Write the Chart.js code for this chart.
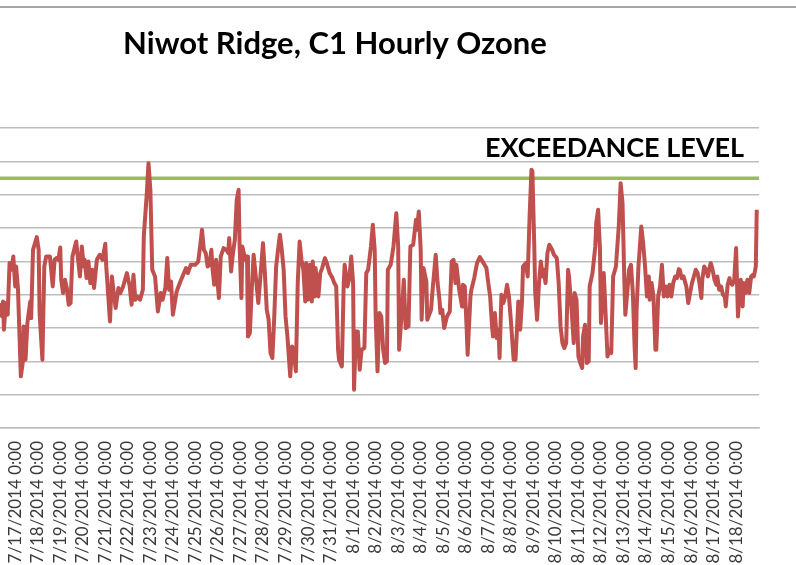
<!DOCTYPE html>
<html>
<head>
<meta charset="utf-8">
<script src="https://cdn.jsdelivr.net/npm/chart.js@4.4.1/dist/chart.umd.min.js"></script>
<style>
  html, body { margin: 0; padding: 0; background: #fff; }
  #frame { position: relative; width: 796px; height: 565px; overflow: hidden; background: #fff; }
  #wrap { position: absolute; left: -89px; top: 0; width: 885px; height: 565px; }
</style>
</head>
<body>
<div id="frame">
  <div id="wrap"><canvas id="grafico"></canvas></div>
</div>
<script>
// horas desde 7/17/2014 0:00 e ozônio (ppb)
const horas = [
  -16, -14, -13, -12, -10, -8, -6, -4, -2, 0, 1, 3, 6, 8, 9, 11, 13, 16, 17, 19,
  23, 25, 26, 29, 31, 33, 37, 40, 42, 44, 46, 48, 49, 51, 53, 55, 57, 59, 61, 65,
  67, 69, 71, 73, 74, 76, 78, 80, 82, 84, 87, 90, 93, 96, 97, 101, 103, 105, 107, 110,
  112, 115, 119, 122, 124, 126, 128, 130, 133, 136, 137, 140, 142, 144, 146, 149, 152, 155, 157, 160,
  162, 164, 166, 168, 170, 172, 176, 179, 182, 184, 187, 192, 195, 197, 199, 201, 203, 205, 207, 209,
  210, 212, 214, 216, 217, 219, 222, 225, 227, 228, 230, 232, 234, 236, 238, 239, 241, 242, 245, 247,
  248, 250, 252, 254, 257, 259, 261, 264, 266, 268, 270, 272, 274, 276, 278, 280, 282, 284, 286, 288,
  290, 293, 295, 297, 299, 301, 303, 305, 307, 309, 310, 312, 314, 316, 317, 319, 320, 323, 325, 327,
  330, 332, 335, 338, 340, 342, 344, 345, 348, 350, 351, 354, 356, 358, 360, 361, 363, 365, 367, 369,
  372, 374, 376, 379, 381, 383, 384, 386, 388, 390, 392, 394, 396, 397, 400, 403, 406, 408, 409, 412,
  414, 416, 419, 421, 424, 427, 428, 430, 432, 433, 435, 438, 439, 443, 445, 448, 450, 452, 453, 455,
  457, 460, 463, 465, 467, 469, 470, 473, 476, 477, 479, 481, 482, 485, 486, 489, 492, 495, 499, 502,
  504, 506, 508, 509, 511, 513, 515, 516, 518, 520, 522, 524, 526, 528, 531, 533, 536, 538, 540, 541,
  544, 546, 548, 550, 551, 553, 554, 556, 558, 560, 562, 563, 565, 567, 569, 572, 574, 577, 579, 581,
  583, 585, 587, 589, 590, 593, 595, 596, 598, 600, 602, 604, 605, 607, 609, 611, 612, 615, 618, 619,
  621, 623, 624, 627, 628, 631, 633, 635, 637, 640, 643, 645, 647, 649, 650, 652, 654, 656, 658, 660,
  661, 662, 664, 666, 667, 669, 671, 673, 675, 676, 678, 680, 682, 683, 685, 687, 689, 691, 693, 695,
  697, 699, 701, 703, 705, 707, 708, 710, 712, 714, 715, 717, 719, 721, 723, 725, 727, 729, 731, 732,
  734, 736, 738, 740, 741, 743, 745, 747, 748, 750, 752, 754, 756, 757, 759, 761, 762, 764, 766, 768,
  769, 770, 772, 773, 775, 776, 778, 780, 782, 784, 786, 787, 789, 790
];
const ozonio = [
  37.5, 33.5, 38, 29.5, 37.5, 34, 49.5, 47.5, 51.5, 42.5, 48.5, 41.5, 15.5, 19.5, 30.5, 20.5, 31.5, 38, 33, 53.5,
  57.3, 53.5, 34.5, 20.5, 48.5, 51.5, 51.5, 42.5, 50.5, 51, 50.5, 54.2, 44.5, 40.5, 44.5, 42, 37, 37.5, 51.5, 56,
  50.5, 45.5, 54.5, 48.5, 50.5, 45, 50, 43.5, 47.5, 42, 50.5, 52, 50.5, 55.3, 48.5, 32, 45.5, 40.5, 36, 42,
  40.5, 42.5, 46.5, 42.5, 37, 46, 38.5, 39.5, 38.5, 41.5, 57.5, 69.5, 79.5, 71.5, 47.5, 45.5, 35, 40.5, 38.5, 42,
  51, 41.5, 44, 34, 37.5, 41, 44, 46, 48, 46.5, 49, 49, 50, 54.5, 59.5, 53.5, 52.5, 48.5, 49, 53.5,
  48.5, 43, 50.5, 42.5, 39, 51.5, 54, 53.5, 52.5, 57, 47, 52.5, 56.5, 68.5, 71.5, 55.5, 39, 54.5, 50.5, 51.5,
  27.5, 28.5, 41.5, 52, 43.5, 37.5, 44.5, 55.5, 46.5, 35.5, 32.5, 22.5, 21, 33.5, 48.5, 53.5, 58, 53.5, 47.5, 33.5,
  27.5, 15.5, 24.5, 22.5, 17, 43.5, 56, 50.5, 47.5, 38, 49.5, 38.5, 49, 38, 50, 39.5, 48, 39.5, 46.5, 48,
  51, 49.5, 46.5, 45, 43.5, 42.5, 23.5, 20.5, 18.5, 43.5, 49, 42.5, 45, 51.5, 43.5, 11.5, 29, 29, 17.5, 23.5,
  24, 46.5, 47.5, 54.5, 61, 53.5, 33.5, 17, 34.5, 33.5, 23.5, 19.5, 20, 47.5, 49, 54.5, 64.5, 54.5, 23.5, 35.5,
  44.5, 30, 30.5, 54.5, 55, 62.5, 59.5, 65, 53.5, 32.5, 48, 44, 32.5, 35.5, 42.5, 52, 43.5, 38.5, 34.5, 35.5,
  30, 33.5, 35, 50, 50.5, 43.5, 49, 41.5, 36.5, 43, 42.5, 29.5, 22, 39.5, 41.5, 45, 49.5, 51.3, 49.5, 48,
  43.5, 39.5, 30.5, 27.5, 34.5, 27, 29.5, 21, 40, 37.5, 39.5, 43, 39.5, 32.5, 20.5, 20.5, 38, 29.5, 38.5, 48.5,
  49.5, 45.5, 63.5, 77.5, 77, 54.5, 40.5, 32.5, 43.5, 50, 45.5, 47.5, 43.5, 52.5, 55, 53.5, 52, 51, 43.5, 30.5,
  25.5, 24, 25.5, 47.5, 45.5, 34.5, 25.5, 40.5, 38.5, 21.5, 19.5, 18, 27.5, 31, 19.5, 20, 42.5, 46.5, 54.5, 61.5,
  65.5, 53.5, 31.5, 46.5, 40.5, 21.5, 23.5, 22.5, 45.5, 48.5, 60.5, 73.5, 67.5, 43.5, 34, 40.5, 47.5, 49, 40.5, 23.5,
  18, 35.5, 48.5, 56.5, 60.5, 55.5, 48.5, 39.5, 45.5, 38.5, 43.5, 39.5, 23.5, 23.5, 39.5, 42.5, 49, 39.5, 42.5, 39.5,
  43, 39.5, 43.5, 45.5, 45, 47.7, 47.5, 45, 45.5, 43.5, 42.5, 37.5, 40.5, 43.5, 45.5, 47.5, 46.5, 43.5, 39, 44.5,
  48.5, 47.5, 45.5, 48.5, 49.5, 47.5, 44.5, 43, 45.5, 41.5, 42.5, 40, 39.5, 36.5, 43, 45, 43.5, 43, 44.5, 54,
  43.5, 33.5, 41.5, 44.5, 36.5, 43.5, 40.5, 44.5, 40.5, 45.5, 46, 45.5, 48.5, 65.5
];
// rótulos do eixo X (um por dia, a partir de 7/16)
const rotulosDias = [
  "7/16/2014 0:00", "7/17/2014 0:00", "7/18/2014 0:00", "7/19/2014 0:00", "7/20/2014 0:00",
  "7/21/2014 0:00", "7/22/2014 0:00", "7/23/2014 0:00", "7/24/2014 0:00", "7/25/2014 0:00",
  "7/26/2014 0:00", "7/27/2014 0:00", "7/28/2014 0:00", "7/29/2014 0:00", "7/30/2014 0:00",
  "7/31/2014 0:00", "8/1/2014 0:00", "8/2/2014 0:00", "8/3/2014 0:00", "8/4/2014 0:00",
  "8/5/2014 0:00", "8/6/2014 0:00", "8/7/2014 0:00", "8/8/2014 0:00", "8/9/2014 0:00",
  "8/10/2014 0:00", "8/11/2014 0:00", "8/12/2014 0:00", "8/13/2014 0:00", "8/14/2014 0:00",
  "8/15/2014 0:00", "8/16/2014 0:00", "8/17/2014 0:00", "8/18/2014 0:00"
];
const nivelExcedencia = 75; // ppb
const textoExcedencia = "EXCEEDANCE LEVEL";
const titulo = "Niwot Ridge, C1 Hourly Ozone";

const inicioEixo = -111; // parte esquerda fica cortada, como no original
const fimEixo = 792.4;

const cinza = "#bdbdbd";

// texto do nível de excedência acima da linha verde + borda superior do quadro
const extras = {
  id: "extras",
  afterDraw(chart) {
    const ctx = chart.ctx;
    const y = chart.scales.y.getPixelForValue(nivelExcedencia);
    ctx.save();
    ctx.fillStyle = "#a6a6a6";
    ctx.fillRect(0, 6, chart.width, 2);
    ctx.font = "bold 27px Lato";
    ctx.fillStyle = "#000";
    ctx.textAlign = "right";
    ctx.textBaseline = "alphabetic";
    ctx.fillText(textoExcedencia, chart.chartArea.right - 15, y - 21);
    ctx.restore();
  },
};

const ctx = document.getElementById("grafico").getContext("2d");
const myChart = new Chart(ctx, {
  type: "line",
  data: {
    datasets: [
      {
        label: "Ozone",
        data: horas.map((h, i) => ({ x: h, y: ozonio[i] })),
        borderColor: "#c0504d",
        borderWidth: 4,
        pointRadius: 0,
        tension: 0,
        borderJoinStyle: "round",
      },
      {
        label: "Exceedance",
        data: [
          { x: inicioEixo, y: nivelExcedencia },
          { x: fimEixo, y: nivelExcedencia },
        ],
        borderColor: "#9bbb59",
        borderWidth: 3.5,
        pointRadius: 0,
      },
    ],
  },
  options: {
    responsive: true,
    maintainAspectRatio: false,
    animation: false,
    layout: { padding: { left: 0, right: 37, top: 0, bottom: 0 } },
    plugins: {
      legend: { display: false },
      tooltip: { enabled: false },
      title: {
        display: true,
        text: titulo,
        color: "#000",
        font: { family: "Lato", size: 31, weight: "bold" },
        padding: { top: 25, bottom: 66 },
      },
    },
    scales: {
      x: {
        type: "linear",
        min: inicioEixo,
        max: fimEixo,
        afterBuildTicks: (scale) => {
          scale.ticks = rotulosDias.map((r, i) => ({ value: (i - 1) * 24 }));
        },
        afterFit: (scale) => {
          scale.height = 137;
        },
        grid: { display: false, drawTicks: false },
        border: { display: true, color: cinza, width: 1.5 },
        ticks: {
          autoSkip: false,
          minRotation: 90,
          maxRotation: 90,
          padding: 13,
          color: "#3a3a3a",
          font: { family: "Lato", size: 17 },
          callback: (valor, indice) => rotulosDias[indice],
        },
      },
      y: {
        min: 0,
        max: 90,
        afterFit: (scale) => {
          scale.width = 0;
        },
        grid: { color: cinza, lineWidth: 1.5, drawTicks: false },
        border: { display: false },
        ticks: { display: false, stepSize: 10 },
      },
    },
  },
  plugins: [extras],
});
</script>
</body>
</html>
